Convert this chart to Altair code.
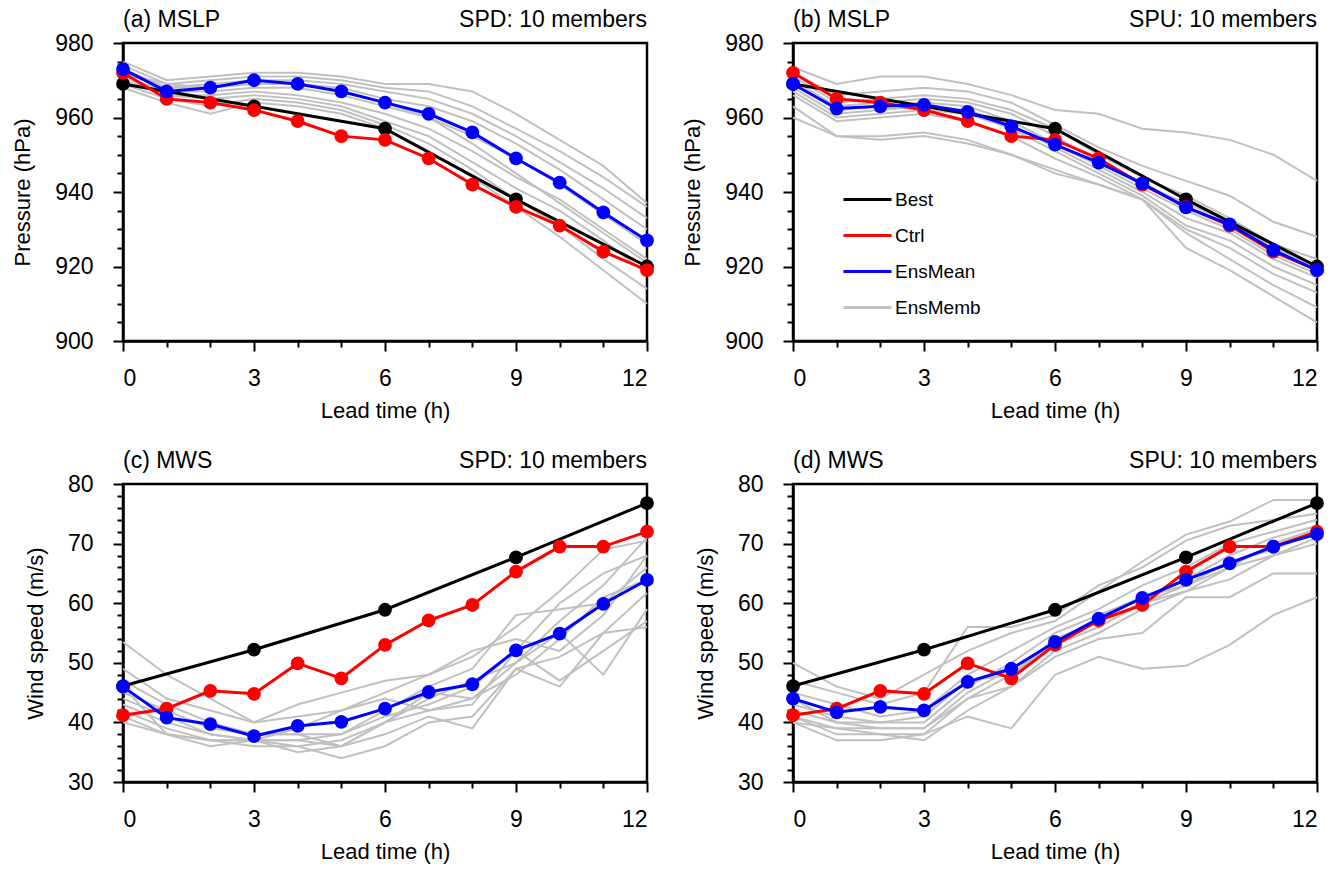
import altair as alt
import pandas as pd

FONT = "Liberation Sans"

hours = list(range(13))
best_hours = [0, 3, 6, 9, 12]

best_mslp = [969, 963, 957, 938, 920]
best_mws = [46.1, 52.2, 58.9, 67.7, 76.8]

ctrl_mslp = [972, 965, 964, 962, 959, 955, 954, 949, 942, 936, 931, 924, 919]
ctrl_mws = [41.2, 42.3, 45.3, 44.8, 49.9, 47.4, 53.0, 57.1, 59.7, 65.3, 69.5, 69.5, 72.0]

mean_mslp_spd = [973, 967, 968, 970, 969, 967, 964, 961, 956, 949, 942.5, 934.5, 927]
mean_mslp_spu = [969, 962.4, 963, 963.4, 961.5, 957.6, 952.7, 947.9, 942.3, 935.9, 931.3, 924.4, 919]
mean_mws_spd = [46, 40.8, 39.7, 37.7, 39.4, 40.1, 42.3, 45.1, 46.4, 52.1, 54.9, 59.9, 63.9]
mean_mws_spu = [44, 41.7, 42.6, 42, 46.8, 49, 53.5, 57.4, 60.9, 63.9, 66.7, 69.5, 71.6]

memb_mslp_spd = [
    [975, 970, 971, 972, 972, 971, 969, 969, 967, 961, 954, 947, 937],
    [974, 969, 970, 971, 971, 970, 968, 967, 963, 957, 951, 944, 936],
    [973, 968, 969, 970, 970, 969, 967, 965, 961, 955, 948, 941, 933],
    [972, 968, 968, 969, 969, 968, 965, 963, 959, 953, 946, 938, 930],
    [971, 967, 967, 968, 968, 966, 963, 960, 955, 949, 942, 934, 926],
    [971, 966, 966, 967, 966, 964, 961, 957, 951, 944, 938, 930, 922],
    [970, 966, 965, 966, 965, 963, 959, 955, 948, 941, 935, 927, 918],
    [969, 965, 963, 965, 964, 962, 958, 953, 946, 938, 931, 922, 914],
    [968, 964, 961, 964, 963, 961, 957, 951, 944, 936, 928, 919, 910],
    [972, 969, 968, 970, 969, 967, 964, 960, 953, 945, 937, 929, 921],
]
memb_mslp_spu = [
    [973.5, 969, 971, 971, 969, 966, 962, 961, 957, 956, 954, 950, 943],
    [972, 966, 967, 968, 967, 964, 958, 952, 947, 943, 939, 932, 928],
    [971, 964, 965, 966, 965, 962, 957, 950, 944, 939, 933, 926, 922],
    [970, 963, 964, 965, 964, 961, 955, 948, 942, 937, 932, 925, 920],
    [969, 962, 963, 964, 963, 959, 953, 947, 941, 935, 930, 923, 918],
    [968, 961, 962, 963, 962, 958, 952, 946, 940, 933, 929, 922, 917],
    [967, 960, 961, 962, 961, 957, 951, 945, 939, 931, 927, 920, 915],
    [966, 959, 960, 961, 959, 955, 949, 944, 938, 930, 925, 918, 913],
    [963, 955, 955, 956, 954, 950, 945, 942, 938, 929, 922, 915, 909],
    [960, 955, 954, 955, 953, 950, 946, 942, 938, 925, 919, 912, 905],
]
memb_mws_spd = [
    [53.5, 48, 44, 40, 43, 45, 47, 48, 51, 56, 62, 69, 70.5],
    [49, 44, 42, 40, 41, 42, 45, 48, 52, 54, 52, 58, 68],
    [47, 43, 40, 38, 38, 36, 40, 44, 47, 50, 57, 63, 71],
    [45, 42, 39, 38, 38, 38, 41, 43, 46, 52, 60, 65, 68],
    [44, 41, 38, 37, 37, 38, 42, 46, 49, 58, 59, 60, 66],
    [43, 40, 38, 37, 37, 36, 40, 45, 44, 48, 54, 61, 64],
    [42, 39, 37, 36, 36, 37, 40, 42, 44, 50, 55, 48, 59],
    [41, 38, 37, 37, 36, 34, 36, 40, 41, 49, 51, 55, 61.7],
    [40, 38, 37, 37, 39, 42, 44, 42, 43, 52, 47, 52, 57],
    [46, 38, 36, 37, 35, 36, 38, 41, 39, 49, 46, 55, 56],
]
memb_mws_spu = [
    [50, 46, 44, 48, 52, 55, 57, 62, 67, 71.5, 73.7, 77.3, 77.3],
    [47, 45, 43, 45, 56, 56, 58, 63, 66, 70.5, 73, 74, 75],
    [45, 43, 41, 42, 48, 52, 56, 59, 63, 66, 70, 72, 74],
    [43, 41, 40, 40, 46, 50, 55, 58, 61, 64, 68, 71, 73],
    [42, 40, 39, 39, 45, 49, 53, 57, 61, 63, 67, 69, 72],
    [41, 39, 38, 38, 44, 48, 53, 56, 60, 62, 66, 68, 71],
    [41, 38, 38, 37, 42, 46, 52, 55, 59, 62, 64, 68, 70],
    [40, 39, 39, 39, 44, 46, 51, 54, 55, 61, 61, 65, 65],
    [40, 37, 37, 38, 41, 39, 48, 51, 49, 49.5, 53, 58, 61],
    [44, 40, 40, 41, 47, 48, 54, 57, 60, 63, 66, 70, 72.5],
]

series_names = ["Best", "Ctrl", "EnsMean", "EnsMemb"]
series_colors = ["#000000", "#ff0000", "#0000ff", "#c0c0c0"]

W, H = 524, 298


def make_df(best, ctrl, mean, members):
    rows = []
    for i, m in enumerate(members):
        for h, v in zip(hours, m):
            rows.append(dict(series="EnsMemb", member=f"m{i+1}", hour=h, value=v))
    for h, v in zip(best_hours, best):
        rows.append(dict(series="Best", member="best", hour=h, value=v))
    for h, v in zip(hours, ctrl):
        rows.append(dict(series="Ctrl", member="ctrl", hour=h, value=v))
    for h, v in zip(hours, mean):
        rows.append(dict(series="EnsMean", member="mean", hour=h, value=v))
    return pd.DataFrame(rows)


def panel(label, right_text, df, ydom, ymajor, ystep, ytitle, show_legend):
    yvals = list(range(ydom[0], ydom[1] + 1, ystep))
    xaxis = alt.Axis(
        values=hours,
        labelExpr="datum.value % 3 === 0 ? datum.label : ''",
        tickSize={"condition": {"test": "datum.value % 3 === 0", "value": 10}, "value": 6},
        title="Lead time (h)",
        grid=False,
        labelPadding=16,
        titlePadding=10,
    )
    yaxis = alt.Axis(
        values=yvals,
        labelExpr=f"datum.value % {ymajor} === 0 ? datum.label : ''",
        tickSize={"condition": {"test": f"datum.value % {ymajor} === 0", "value": 10}, "value": 6},
        title=ytitle,
        grid=False,
        labelPadding=20,
        titlePadding=20,
    )
    x = alt.X("hour:Q", scale=alt.Scale(domain=[0, 12], nice=False), axis=xaxis)
    y = alt.Y("value:Q", scale=alt.Scale(domain=ydom, nice=False, zero=False), axis=yaxis)
    if show_legend:
        legend = alt.Legend(
            orient="none", legendX=49, legendY=131, title=None,
            symbolType="stroke", symbolSize=2304, symbolStrokeWidth=3,
            labelFont=FONT, labelFontSize=19, labelColor="black",
            labelOffset=2, rowPadding=-1, padding=0, symbolOpacity=1,
        )
    else:
        legend = None
    color = alt.Color("series:N", scale=alt.Scale(domain=series_names, range=series_colors), legend=legend)

    base = alt.Chart(df)
    memb = base.transform_filter(alt.datum.series == "EnsMemb").mark_line(strokeWidth=2).encode(
        x=x, y=y, color=color, detail="member:N"
    )
    layers = [memb]
    for s in ["Best", "Ctrl", "EnsMean"]:
        sub = base.transform_filter(alt.datum.series == s)
        layers.append(sub.mark_line(strokeWidth=3).encode(x=x, y=y, color=color))
        layers.append(sub.mark_point(filled=True, size=190, opacity=1).encode(x=x, y=y, color=color))
    ltext = alt.Chart(pd.DataFrame({"t": [label]})).mark_text(
        align="left", baseline="alphabetic", dy=-16, font=FONT, fontSize=23, color="black"
    ).encode(x=alt.datum(0), y=alt.value(0), text="t:N")
    rtext = alt.Chart(pd.DataFrame({"t": [right_text]})).mark_text(
        align="right", baseline="alphabetic", dy=-16, font=FONT, fontSize=23, color="black"
    ).encode(x=alt.datum(12), y=alt.value(0), text="t:N")
    layers += [ltext, rtext]
    return alt.layer(*layers).properties(width=W, height=H)


pa = panel("(a) MSLP", "SPD: 10 members", make_df(best_mslp, ctrl_mslp, mean_mslp_spd, memb_mslp_spd),
           [900, 980], 20, 5, "Pressure (hPa)", False)
pb = panel("(b) MSLP", "SPU: 10 members", make_df(best_mslp, ctrl_mslp, mean_mslp_spu, memb_mslp_spu),
           [900, 980], 20, 5, "Pressure (hPa)", True)
pc = panel("(c) MWS", "SPD: 10 members", make_df(best_mws, ctrl_mws, mean_mws_spd, memb_mws_spd),
           [30, 80], 10, 2, "Wind speed (m/s)", False)
pd_ = panel("(d) MWS", "SPU: 10 members", make_df(best_mws, ctrl_mws, mean_mws_spu, memb_mws_spu),
            [30, 80], 10, 2, "Wind speed (m/s)", False)

top = alt.hconcat(pa, pb, spacing=24).resolve_scale(color="independent").resolve_legend(color="independent")
bot = alt.hconcat(pc, pd_, spacing=37).resolve_scale(color="independent").resolve_legend(color="independent")

chart = alt.vconcat(top, bot, spacing=25).resolve_scale(color="independent").resolve_legend(
    color="independent"
).properties(
    padding={"left": 10, "top": 7, "right": 10, "bottom": 5}
).configure(
    font=FONT, background="white"
).configure_view(
    stroke="black", strokeWidth=2.5
).configure_axis(
    domainColor="black", domainWidth=2.5, tickColor="black", tickWidth=2,
    labelFont=FONT, labelFontSize=23, labelColor="black",
    titleFont=FONT, titleFontSize=22, titleColor="black", titleFontWeight="normal",
)

chart.save("out.html", embed_options={"renderer": "svg", "actions": False})
